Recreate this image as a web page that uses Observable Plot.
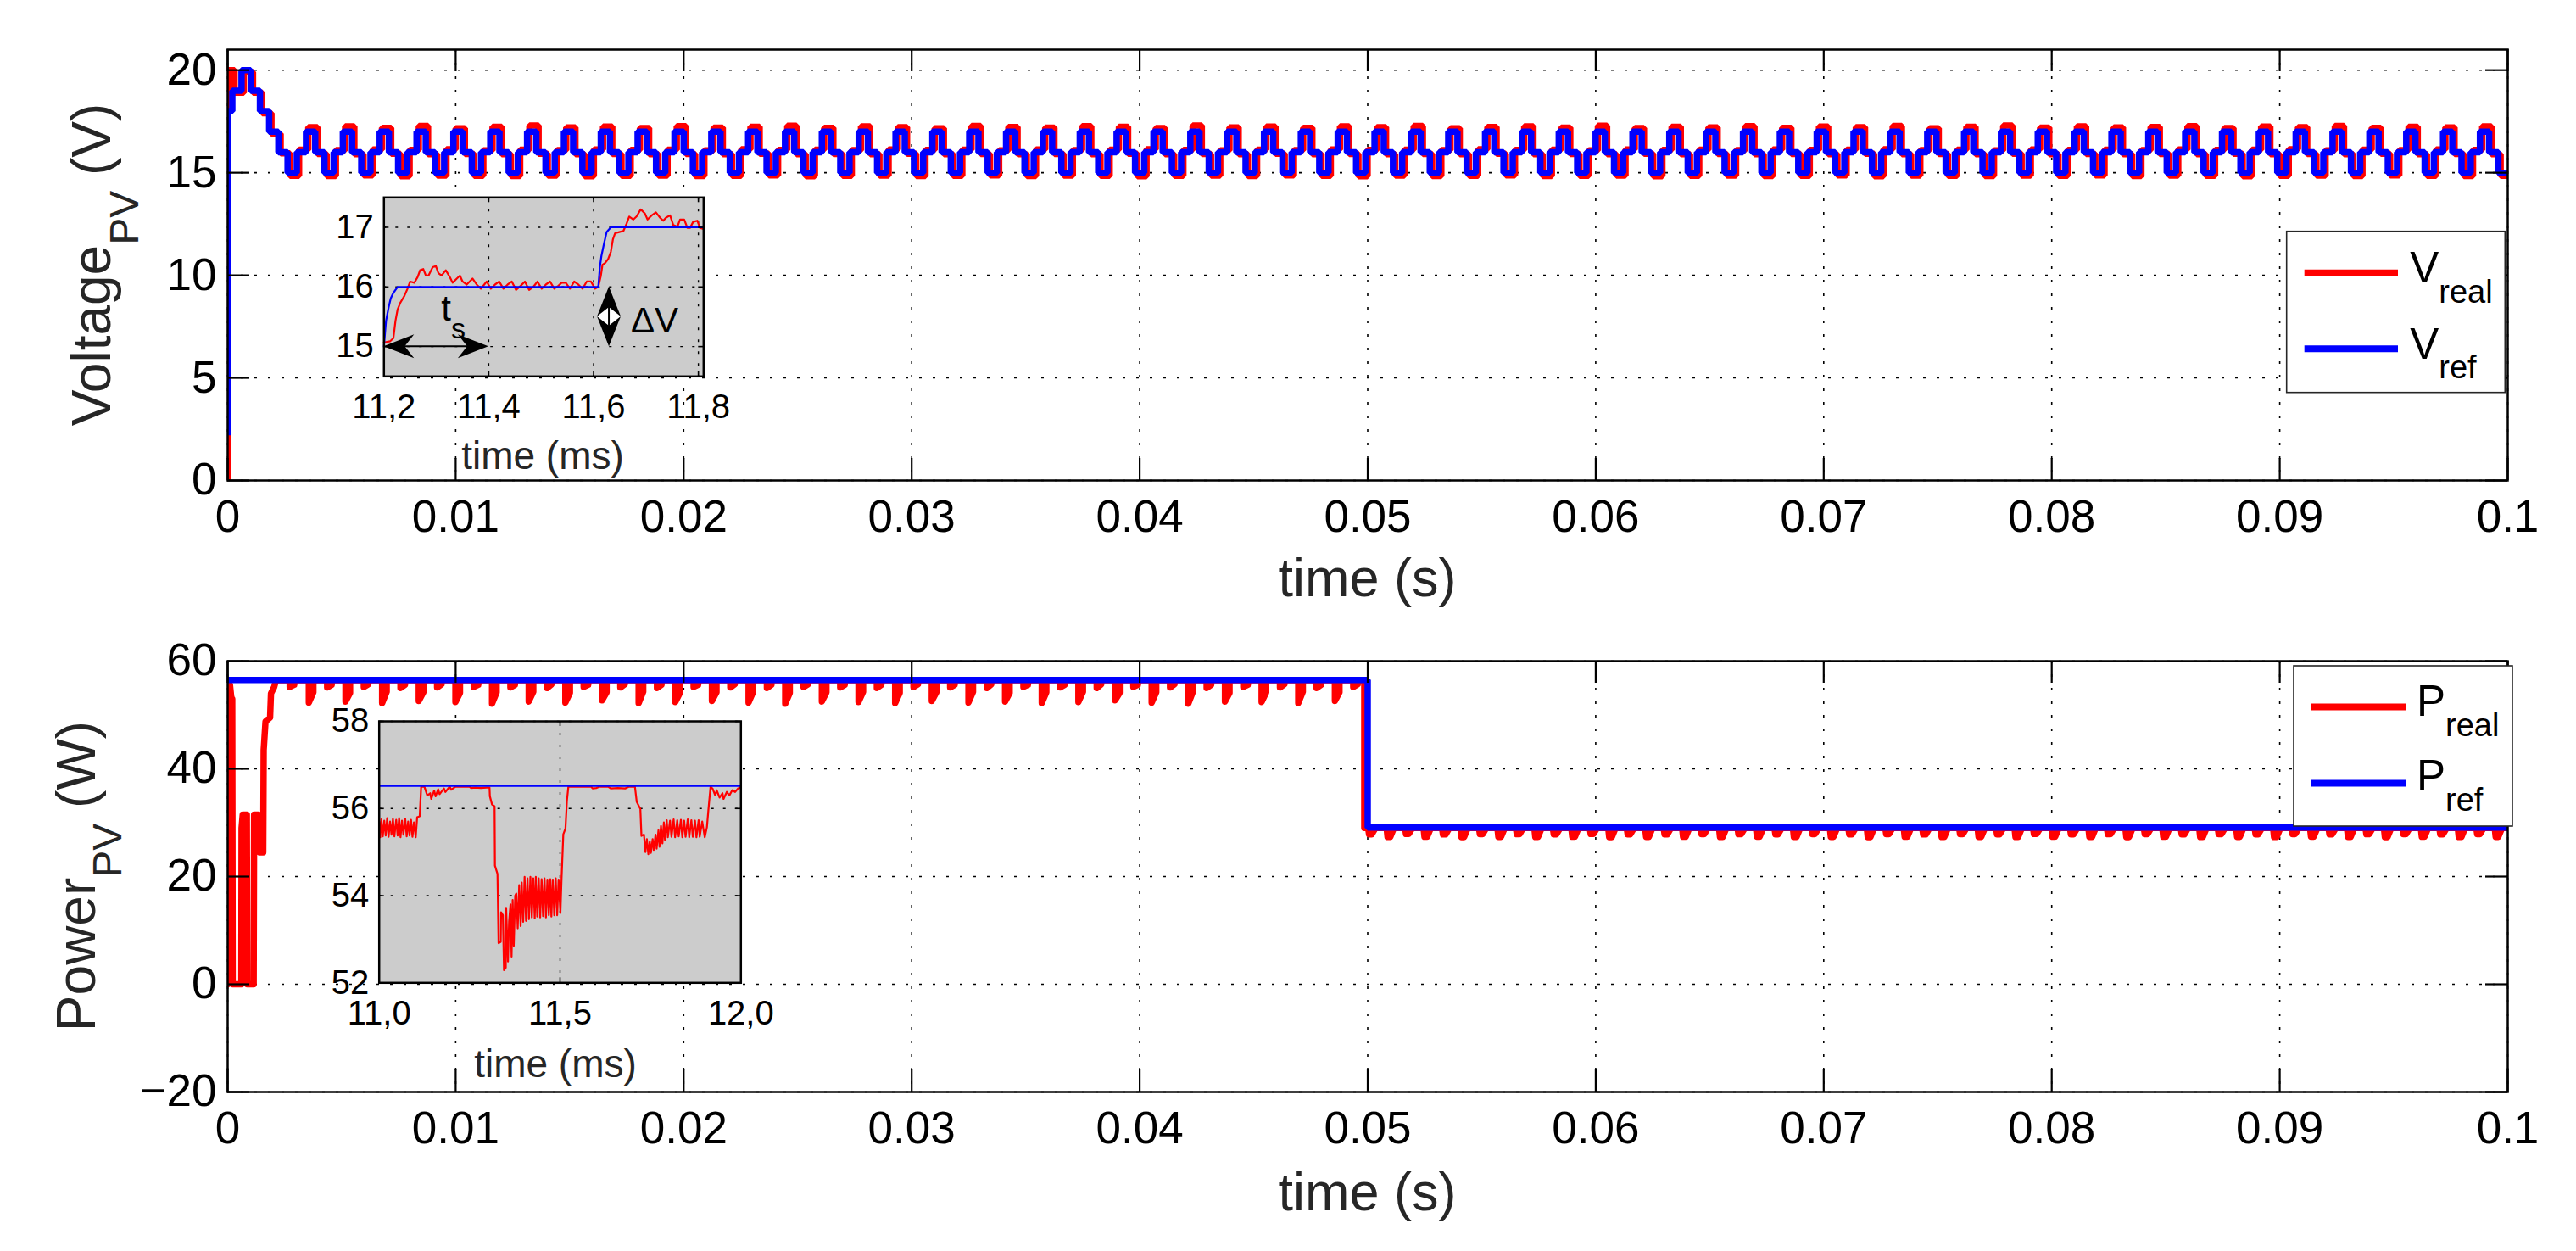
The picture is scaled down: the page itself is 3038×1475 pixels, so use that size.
<!DOCTYPE html>
<html>
<head>
<meta charset="utf-8">
<script src="https://cdn.jsdelivr.net/npm/d3@7"></script>
<script src="https://cdn.jsdelivr.net/npm/@observablehq/plot@0.6"></script>
<style>
html,body{margin:0;padding:0;background:#fff;}
#fig{position:relative;width:3038px;height:1475px;background:#fff;overflow:hidden;}
#fig svg{position:absolute;max-width:none;}
</style>
</head>
<body>
<div id="fig"></div>
<script>
// ===================== DATA =====================
// axis ticks
const xTicksMs = [0, 10, 20, 30, 40, 50, 60, 70, 80, 90, 100];   // shown as seconds
const vTicks = [0, 5, 10, 15, 20];
const vDomain = [0, 21];
const pTicks = [-20, 0, 20, 40, 60];
const pDomain = [-20, 60];

// legend entries
const vSeries = [{base: "V", sub: "real"}, {base: "V", sub: "ref"}];
const pSeries = [{base: "P", sub: "real"}, {base: "P", sub: "ref"}];

// --- PV voltage: perturb & observe staircase, one level per perturbation slot
const slotMs = 0.404;       // perturbation period read off the staircase
const slotStartMs = -0.2;   // start time of slot 0
const vRefStart = 2.2;      // V_ref at t = 0
const vRefLevels = [
  18, 19, 20, 19, 18, 17, 16,
  15,16,17,16, 15,16,17,16, 15,16,17,16, 15,16,17,16, 15,16,17,16, 15,16,17,16, 15,16,17,16, 15,16,17,16, 15,16,17,16, 15,16,17,16,
  15,16,17,16, 15,16,17,16, 15,16,17,16, 15,16,17,16, 15,16,17,16, 15,16,17,16, 15,16,17,16, 15,16,17,16, 15,16,17,16, 15,16,17,16,
  15,16,17,16, 15,16,17,16, 15,16,17,16, 15,16,17,16, 15,16,17,16, 15,16,17,16, 15,16,17,16, 15,16,17,16, 15,16,17,16, 15,16,17,16,
  15,16,17,16, 15,16,17,16, 15,16,17,16, 15,16,17,16, 15,16,17,16, 15,16,17,16, 15,16,17,16, 15,16,17,16, 15,16,17,16, 15,16,17,16,
  15,16,17,16, 15,16,17,16, 15,16,17,16, 15,16,17,16, 15,16,17,16, 15,16,17,16, 15,16,17,16, 15,16,17,16, 15,16,17,16, 15,16,17,16,
  15,16,17,16, 15,16,17,16, 15,16,17,16, 15,16,17,16, 15,16,17,16, 15,16,17,16, 15,16,17,16, 15,16,17,16, 15,16,17,16, 15,16,17,16,
  15
];
const vRealStart = 0;       // V_real at t = 0
const vRealLagMs = 0.1;     // lag of V_real behind V_ref
const vRealLevels = [
  20, 18.9, 19.9, 18.9, 17.9, 16.9, 15.95,
  14.85,16.12,17.22,15.92, 14.84,16.10,17.26,15.90, 14.87,16.13,17.19,15.93, 14.83,16.11,17.28,15.91, 14.86,16.14,17.17,15.92, 14.85,16.09,17.24,15.90, 14.84,16.12,17.30,15.93, 14.86,16.10,17.21,15.91, 14.83,16.13,17.25,15.92, 14.85,16.11,17.18,15.90,
  14.86,16.12,17.27,15.92, 14.84,16.09,17.20,15.91, 14.85,16.14,17.24,15.93, 14.87,16.11,17.29,15.90, 14.83,16.12,17.19,15.92, 14.85,16.10,17.26,15.91, 14.86,16.13,17.22,15.93, 14.84,16.11,17.17,15.90, 14.85,16.12,17.28,15.92, 14.87,16.09,17.23,15.91,
  14.84,16.13,17.20,15.92, 14.86,16.10,17.27,15.90, 14.85,16.12,17.24,15.93, 14.83,16.14,17.18,15.91, 14.85,16.11,17.30,15.92, 14.86,16.09,17.21,15.90, 14.84,16.12,17.25,15.93, 14.87,16.10,17.19,15.91, 14.85,16.13,17.26,15.92, 14.83,16.11,17.22,15.90,
  14.86,16.12,17.28,15.92, 14.84,16.10,17.17,15.91, 14.85,16.14,17.23,15.93, 14.87,16.11,17.26,15.90, 14.84,16.12,17.20,15.92, 14.85,16.09,17.29,15.91, 14.86,16.13,17.18,15.93, 14.83,16.11,17.24,15.90, 14.85,16.12,17.21,15.92, 14.86,16.10,17.27,15.91,
  14.84,16.13,17.19,15.92, 14.85,16.11,17.25,15.90, 14.87,16.12,17.22,15.93, 14.83,16.14,17.28,15.91, 14.86,16.10,17.17,15.92, 14.85,16.12,17.24,15.90, 14.84,16.09,17.30,15.93, 14.86,16.13,17.20,15.91, 14.85,16.11,17.26,15.92, 14.87,16.12,17.21,15.90,
  14.84,16.10,17.23,15.92, 14.86,16.13,17.27,15.91, 14.85,16.11,17.18,15.93, 14.83,16.12,17.25,15.90, 14.85,16.14,17.22,15.92, 14.86,16.09,17.28,15.91, 14.84,16.12,17.19,15.93, 14.87,16.10,17.24,15.90, 14.85,16.13,17.21,15.92, 14.84,16.11,17.26,15.91,
  14.85
];

// --- PV power
const pRefT = [0, 50, 50, 100];
const pRefV = [56.5, 56.5, 29.1, 29.1];
const pRealStart = [
  [0, 0], [0.01, 56], [0.10, 55.6], [0.16, 53.2], [0.20, 53.0], [0.22, 0], [0.60, 0],
  [0.61, 29], [0.66, 31.5], [0.84, 31.5], [0.86, 0], [1.14, 0], [1.16, 31.5], [1.34, 31.5],
  [1.37, 30.2], [1.40, 24.5], [1.56, 24.5], [1.58, 43.5], [1.66, 48.8], [1.86, 49.5],
  [1.90, 54.0], [2.04, 55.2], [2.12, 56.45], [2.72, 56.45], [2.72, 55.2], [2.92, 55.6], [2.92, 56.45]
];
const pBase1 = 56.45, pBase2 = 29.0;      // P_real between dips (before / after the step)
const pStepMs = 49.85;                     // P_real drop time
const pDip1FirstMs = 3.56, pDip1EveryMs = 0.8036, pDipLenMs = 0.2;
const pDip1 = [ // [minimum, value at recovery] of each dip before 0.05 s
  [52.3,54.2],[55.1,55.6],[52.5,54.1],[55.2,55.7],[52.2,54.3],[55.0,55.6],[52.6,54.2],[55.1,55.7],[52.4,54.1],[55.2,55.6],
  [52.1,54.2],[55.1,55.6],[52.5,54.3],[55.0,55.7],[52.3,54.1],[55.2,55.6],[52.7,54.2],[55.1,55.7],[52.2,54.3],[55.0,55.6],
  [52.4,54.1],[55.2,55.6],[52.6,54.2],[55.1,55.7],[52.3,54.3],[55.0,55.6],[52.1,54.1],[55.2,55.7],[52.5,54.2],[55.1,55.6],
  [52.4,54.3],[55.0,55.6],[52.2,54.1],[55.2,55.7],[52.6,54.2],[55.1,55.6],[52.3,54.3],[55.0,55.7],[52.5,54.1],[55.2,55.6],
  [52.2,54.2],[55.1,55.6],[52.4,54.3],[55.0,55.7],[52.7,54.1],[55.2,55.6],[52.3,54.2],[55.1,55.7],[52.1,54.3],[55.0,55.6],
  [52.5,54.1],[55.2,55.6],[52.4,54.2],[55.1,55.7],[52.2,54.3],[55.0,55.6],[52.6,54.2],[55.2,55.7]
];
const pDip2FirstMs = 50.02, pDip2EveryMs = 0.81;
const pDip2 = [ // minimum of each dip after 0.05 s
  27.85,27.35,27.90,27.40,27.82,27.33,27.88,27.38,27.86,27.36,27.84,27.40,27.90,27.34,27.85,27.37,
  27.83,27.39,27.88,27.35,27.86,27.41,27.84,27.36,27.89,27.38,27.85,27.33,27.87,27.40,27.82,27.36,
  27.88,27.38,27.85,27.35,27.90,27.39,27.84,27.37,27.86,27.34,27.88,27.40,27.83,27.36,27.87,27.38,
  27.85,27.35,27.89,27.41,27.84,27.37,27.86,27.33,27.88,27.39,27.85,27.36,27.87,27.38
];

// --- inset 1: zoom on the voltage (time in ms)
const inset1XTicks = [11.2, 11.4, 11.6, 11.8];
const inset1XDomain = [11.2, 11.81];
const inset1YTicks = [15, 16, 17];
const inset1YDomain = [14.5, 17.5];
const insetVRef = [[11.200,15.00],[11.204,15.43],[11.209,15.66],[11.213,15.81],[11.218,15.90],[11.226,16.00],
  [11.609,16.00],[11.612,16.33],[11.615,16.52],[11.620,16.73],[11.625,16.92],[11.633,17.00],[11.810,17.00]];
const insetVReal = [
  [11.200,15.07],[11.212,15.09],[11.218,15.14],[11.222,15.43],[11.226,15.62],[11.231,15.73],[11.239,15.85],[11.245,15.97],
  [11.250,16.09],[11.258,16.07],[11.264,16.16],[11.269,16.28],[11.275,16.30],[11.280,16.19],[11.285,16.19],[11.293,16.33],
  [11.299,16.35],[11.304,16.23],[11.310,16.19],[11.318,16.28],[11.326,16.16],[11.331,16.07],[11.339,16.14],[11.345,16.19],
  [11.350,16.09],[11.358,16.04],[11.369,16.14],[11.377,16.04],[11.385,15.97],[11.396,16.09],[11.404,15.97],[11.412,16.04],
  [11.420,16.09],[11.428,15.97],[11.436,16.04],[11.444,16.09],[11.452,15.95],[11.461,16.02],[11.469,16.09],[11.477,15.95],
  [11.485,16.00],[11.493,16.09],[11.501,15.97],[11.509,16.04],[11.517,16.09],[11.525,15.97],[11.533,16.02],[11.539,16.07],
  [11.547,16.07],[11.555,15.97],[11.563,16.09],[11.571,16.04],[11.579,15.97],[11.587,16.09],[11.595,16.09],[11.603,15.97],
  [11.609,16.00],[11.614,16.19],[11.617,16.37],[11.622,16.40],[11.628,16.47],[11.633,16.59],[11.637,16.80],[11.641,16.90],
  [11.649,16.92],[11.657,16.94],[11.663,17.06],[11.668,17.18],[11.676,17.13],[11.682,17.18],[11.690,17.30],[11.698,17.23],
  [11.703,17.13],[11.711,17.20],[11.719,17.25],[11.727,17.16],[11.733,17.11],[11.738,17.16],[11.746,17.20],[11.752,17.04],
  [11.760,17.01],[11.765,17.13],[11.773,17.13],[11.779,16.99],[11.784,16.99],[11.790,17.09],[11.798,17.11],[11.803,16.99],
  [11.810,16.97]
];
const tsArrow = {t1: 11.2, t2: 11.4, v: 15};
const tsLabel = {t: 11.31, v: 15.43, base: "t", sub: "s"};
const dvArrow = {t: 11.63, v1: 16, v2: 15};
const dvLabel = {t: 11.672, v: 15.23, text: "ΔV"};

// --- inset 2: zoom on the power (time in ms)
const inset2XTicks = [11.0, 11.5, 12.0];
const inset2XDomain = [11, 12];
const inset2YTicks = [52, 54, 56, 58];
const inset2YDomain = [52, 58];
const insetPRef = [[11.0, 56.52], [12.0, 56.52]];
const insetPReal = [
  [11.000,55.70],[11.003,55.34],[11.006,55.75],[11.010,55.36],[11.014,55.72],[11.018,55.38],[11.022,55.78],[11.026,55.35],
  [11.030,55.70],[11.034,55.40],[11.038,55.76],[11.042,55.36],[11.047,55.74],[11.051,55.38],[11.055,55.78],[11.059,55.34],
  [11.063,55.72],[11.067,55.40],[11.072,55.76],[11.076,55.36],[11.080,55.70],[11.084,55.38],[11.088,55.74],[11.092,55.35],
  [11.096,55.68],[11.101,55.34],[11.105,55.80],[11.112,55.82],[11.116,56.50],[11.125,56.50],[11.133,56.30],[11.141,56.35],
  [11.144,56.22],[11.152,56.41],[11.156,56.28],[11.163,56.44],[11.167,56.33],[11.179,56.46],[11.183,56.38],[11.195,56.50],
  [11.199,56.43],[11.211,56.50],[11.250,56.50],[11.254,56.47],[11.266,56.48],[11.281,56.47],[11.297,56.48],[11.305,56.48],
  [11.306,56.28],[11.312,56.09],[11.319,56.05],[11.320,54.69],[11.327,54.50],[11.330,52.91],[11.336,52.94],[11.337,53.62],
  [11.342,53.55],[11.345,52.29],[11.350,52.35],[11.351,53.72],[11.356,52.49],[11.359,53.40],[11.363,53.80],[11.366,52.60],
  [11.369,53.90],[11.372,52.85],[11.376,54.00],[11.379,54.05],[11.383,53.25],[11.387,54.24],[11.391,53.30],[11.394,54.30],
  [11.398,53.40],[11.402,54.43],[11.406,53.42],[11.410,54.40],[11.414,53.46],[11.418,54.43],[11.422,53.50],[11.426,54.40],
  [11.430,53.48],[11.433,54.43],[11.437,53.52],[11.441,54.40],[11.445,53.50],[11.449,54.38],[11.453,53.53],[11.457,54.40],
  [11.461,53.50],[11.465,54.37],[11.469,53.55],[11.473,54.38],[11.476,53.52],[11.480,54.37],[11.484,53.55],[11.488,54.40],
  [11.492,53.55],[11.496,54.37],[11.501,53.60],[11.504,54.35],[11.509,55.41],[11.515,55.54],[11.519,56.18],[11.523,56.50],
  [11.586,56.50],[11.590,56.46],[11.600,56.47],[11.609,56.50],[11.633,56.50],[11.640,56.46],[11.660,56.47],[11.680,56.46],
  [11.691,56.50],[11.707,56.50],[11.712,56.15],[11.722,55.99],[11.725,55.37],[11.732,55.40],[11.736,55.00],[11.740,55.30],
  [11.744,54.95],[11.748,55.25],[11.751,54.98],[11.756,55.30],[11.759,55.05],[11.764,55.40],[11.767,55.08],[11.772,55.50],
  [11.775,55.12],[11.779,55.60],[11.783,55.20],[11.787,55.68],[11.790,55.28],[11.795,55.73],[11.798,55.34],[11.804,55.72],
  [11.808,55.35],[11.814,55.75],[11.818,55.34],[11.824,55.73],[11.828,55.36],[11.834,55.74],[11.838,55.34],[11.843,55.72],
  [11.847,55.35],[11.853,55.75],[11.857,55.34],[11.863,55.73],[11.867,55.35],[11.873,55.72],[11.877,55.34],[11.883,55.73],
  [11.886,55.35],[11.893,55.70],[11.900,55.34],[11.906,55.57],[11.910,55.96],[11.916,56.50],[11.922,56.45],[11.929,56.30],
  [11.933,56.42],[11.941,56.25],[11.949,56.35],[11.952,56.22],[11.961,56.38],[11.968,56.30],[11.976,56.42],[11.984,56.38],
  [11.992,56.46],[12.000,56.48]
];

// ===================== STYLE =====================
const FONT = '"Liberation Sans", Arial, Helvetica, sans-serif';
const RED = "#ff0000", BLUE = "#0000ff", GRAY = "#cccccc", LABEL = "#262626";
const seriesColors = [RED, BLUE];
const W = 3038;
const fmtSec = d => d === 0 ? "0" : String(d / 1000);
const fmtComma = d => d.toFixed(1).replace(".", ",");
const fmtInt = d => d < 0 ? "\u2212" + String(-d) : String(d);

// ===================== SERIES =====================
function stepSeries(levels, startValue, lagMs) {
  const pts = [{t: 0, v: startValue}];
  levels.forEach((v, i) => {
    const a = Math.max(0, slotStartMs + i * slotMs + lagMs);
    const b = Math.min(100, slotStartMs + (i + 1) * slotMs + lagMs);
    if (b > a) pts.push({t: a, v}, {t: b, v});
  });
  const last = pts[pts.length - 1];
  if (last.t < 100) pts.push({t: 100, v: last.v});
  return pts;
}
const vRefPts = stepSeries(vRefLevels, vRefStart, 0);
const vRealPts = stepSeries(vRealLevels, vRealStart, vRealLagMs);

const pRefPts = pRefT.map((t, i) => ({t, p: pRefV[i]}));
const pRealPts = pRealStart.map(([t, p]) => ({t, p}));
pDip1.forEach(([lo, rec], j) => {
  const ts = pDip1FirstMs + j * pDip1EveryMs;
  pRealPts.push({t: ts, p: pBase1}, {t: ts, p: lo}, {t: ts + pDipLenMs, p: rec}, {t: ts + pDipLenMs, p: pBase1});
});
pRealPts.push({t: pStepMs, p: pBase1}, {t: pStepMs, p: pBase2});
pDip2.forEach((lo, k) => {
  const ts = pDip2FirstMs + k * pDip2EveryMs;
  pRealPts.push({t: ts, p: pBase2}, {t: ts + 0.04, p: lo}, {t: ts + 0.16, p: lo}, {t: ts + 0.32, p: pBase2});
});
pRealPts.push({t: 100, p: pBase2});

// ===================== HELPERS =====================
function innerTicks(xTicks, yTicks, innerW, innerH, len, sw) {
  const s = {stroke: "#000", strokeWidth: sw};
  return [
    Plot.tickX(xTicks, {x: d => d, ...s, insetTop: innerH - len}),
    Plot.tickX(xTicks, {x: d => d, ...s, insetBottom: innerH - len}),
    Plot.tickY(yTicks, {y: d => d, ...s, insetRight: innerW - len}),
    Plot.tickY(yTicks, {y: d => d, ...s, insetLeft: innerW - len})
  ];
}

function mainPlot({height, mt, mb, yDomain, yTicks, marks}) {
  const ml = 268, mr = 81;
  const innerW = W - ml - mr, innerH = height - mt - mb;
  return Plot.plot({
    width: W, height, marginTop: mt, marginBottom: mb, marginLeft: ml, marginRight: mr,
    style: {fontFamily: FONT, fontSize: "53px", color: "#000", background: "transparent", overflow: "visible"},
    x: {domain: [0, 100], ticks: xTicksMs, tickFormat: fmtSec, tickSize: 0, tickPadding: 23, label: null},
    y: {domain: yDomain, ticks: yTicks, tickFormat: fmtInt, tickSize: 0, tickPadding: 13, label: null},
    marks: [
      Plot.ruleX(xTicksMs, {x: d => d, stroke: "#000", strokeWidth: 1.6, strokeDasharray: "3,13"}),
      Plot.ruleY(yTicks, {y: d => d, stroke: "#000", strokeWidth: 1.6, strokeDasharray: "3,13"}),
      ...marks,
      ...innerTicks(xTicksMs, yTicks, innerW, innerH, 26, 2.2),
      Plot.frame({stroke: "#000", strokeWidth: 2.5})
    ]
  });
}

function insetPlot({ml, mr, mt, mb, width, height, xDomain, xTicks, yDomain, yTicks, marks}) {
  const innerW = width - ml - mr, innerH = height - mt - mb;
  return Plot.plot({
    width, height, marginTop: mt, marginBottom: mb, marginLeft: ml, marginRight: mr,
    style: {fontFamily: FONT, fontSize: "40px", color: "#000", background: "transparent", overflow: "visible"},
    x: {domain: xDomain, ticks: xTicks, tickFormat: fmtComma, tickSize: 0, tickPadding: 21, label: null},
    y: {domain: yDomain, ticks: yTicks, tickFormat: fmtInt, tickSize: 0, tickPadding: 12, label: null},
    marks: [
      Plot.frame({fill: GRAY}),
      Plot.ruleX(xTicks, {x: d => d, stroke: "#000", strokeWidth: 1.4, strokeDasharray: "3,11"}),
      Plot.ruleY(yTicks, {y: d => d, stroke: "#000", strokeWidth: 1.4, strokeDasharray: "3,11"}),
      ...marks,
      ...innerTicks(xTicks, yTicks, innerW, innerH, 6, 1.6),
      Plot.frame({stroke: "#000", strokeWidth: 2.5})
    ]
  });
}

function subText(svg, {x, y, rotate = 0, anchor = "start", fill = "#000", parts}) {
  const t = d3.select(svg).append("text")
    .attr("transform", `translate(${x},${y}) rotate(${rotate})`)
    .attr("text-anchor", anchor).attr("fill", fill)
    .style("font-family", FONT).style("white-space", "pre");
  parts.forEach(([txt, size, dy]) => t.append("tspan").style("font-size", size + "px").attr("dy", dy).text(txt));
  return t;
}

function drawLegend(svg, L, series) {
  const g = d3.select(svg).append("g");
  g.append("rect").attr("x", L.x0).attr("y", L.y0).attr("width", L.x1 - L.x0).attr("height", L.y1 - L.y0)
    .attr("fill", "#fff").attr("stroke", LABEL).attr("stroke-width", 1.6);
  series.forEach((s, i) => {
    g.append("line").attr("x1", L.lx0).attr("x2", L.lx1).attr("y1", L.ly[i]).attr("y2", L.ly[i])
      .attr("stroke", seriesColors[i]).attr("stroke-width", 8);
    subText(svg, {x: L.tx, y: L.ty[i], parts: [[s.base, 51, 0], [s.sub, 38, L.subDy]]});
  });
}

// ===================== BUILD =====================
const fig = document.getElementById("fig");

// --- top: voltage
const svgTop = mainPlot({
  height: 735, mt: 58, mb: 169, yDomain: vDomain, yTicks: vTicks,
  marks: [
    Plot.line(vRealPts, {x: "t", y: "v", stroke: RED, strokeWidth: 7.5, strokeLinejoin: "miter", strokeLinecap: "butt", clip: true}),
    Plot.line(vRefPts, {x: "t", y: "v", stroke: BLUE, strokeWidth: 7.5, strokeLinejoin: "miter", strokeLinecap: "butt", clip: true})
  ]
});
svgTop.style.left = "0px"; svgTop.style.top = "0px";
fig.appendChild(svgTop);
subText(svgTop, {x: 130, y: 312, rotate: -90, anchor: "middle", fill: LABEL,
  parts: [["Voltage", 64, 0], ["PV", 48, 33], [" (V)", 64, -33]]});
subText(svgTop, {x: 1612.5, y: 703, anchor: "middle", fill: LABEL, parts: [["time (s)", 63, 0]]});
drawLegend(svgTop, {x0: 2696.7, y0: 272.7, x1: 2954.3, y1: 462.7, lx0: 2717.7, lx1: 2828,
  ly: [321.7, 411.2], tx: 2842.3, ty: [333.3, 422.7], subDy: 23.4}, vSeries);

// --- bottom: power
const svgBot = mainPlot({
  height: 740, mt: 44, mb: 188, yDomain: pDomain, yTicks: pTicks,
  marks: [
    Plot.line(pRealPts, {x: "t", y: "p", stroke: RED, strokeWidth: 7.5, strokeLinejoin: "round", clip: true}),
    Plot.line(pRefPts, {x: "t", y: "p", stroke: BLUE, strokeWidth: 7.5, strokeLinejoin: "miter", strokeLinecap: "butt", clip: true})
  ]
});
svgBot.style.left = "0px"; svgBot.style.top = "735px";
fig.appendChild(svgBot);
subText(svgBot, {x: 112, y: 298, rotate: -90, anchor: "middle", fill: LABEL,
  parts: [["Power", 64, 0], ["PV", 48, 31], [" (W)", 64, -31]]});
subText(svgBot, {x: 1612.5, y: 692, anchor: "middle", fill: LABEL, parts: [["time (s)", 63, 0]]});
drawLegend(svgBot, {x0: 2705, y0: 50, x1: 2963, y1: 239, lx0: 2725, lx1: 2837,
  ly: [98.5, 188.4], tx: 2850, ty: [109, 197], subDy: 24}, pSeries);

// --- inset 1 (voltage zoom)
const I1 = {left: 362, top: 222, width: 490, height: 345, ml: 90.3, mr: 22.7, mt: 10.3, mb: 123.7};
const svgI1 = insetPlot({...I1, xDomain: inset1XDomain, xTicks: inset1XTicks, yDomain: inset1YDomain, yTicks: inset1YTicks,
  marks: [
    Plot.line(insetVReal, {x: d => d[0], y: d => d[1], stroke: RED, strokeWidth: 2.2}),
    Plot.line(insetVRef, {x: d => d[0], y: d => d[1], stroke: BLUE, strokeWidth: 2.2})
  ]});
svgI1.style.left = I1.left + "px"; svgI1.style.top = I1.top + "px";
fig.appendChild(svgI1);
subText(svgI1, {x: 278, y: 331, anchor: "middle", fill: LABEL, parts: [["time (ms)", 46, 0]]});
{
  const sx = d3.scaleLinear(inset1XDomain, [I1.ml, I1.width - I1.mr]);
  const sy = d3.scaleLinear(inset1YDomain, [I1.height - I1.mb, I1.mt]);
  const g = d3.select(svgI1).append("g");
  // t_s double arrow
  const y = sy(tsArrow.v), xa = sx(tsArrow.t1), xb = sx(tsArrow.t2);
  g.append("line").attr("x1", xa + 20).attr("x2", xb - 20).attr("y1", y).attr("y2", y).attr("stroke", "#000").attr("stroke-width", 2);
  g.append("path").attr("d", `M${xa},${y}L${xa + 36},${y - 14}L${xa + 25},${y}L${xa + 36},${y + 14}Z`).attr("fill", "#000");
  g.append("path").attr("d", `M${xb},${y}L${xb - 36},${y - 14}L${xb - 25},${y}L${xb - 36},${y + 14}Z`).attr("fill", "#000");
  subText(svgI1, {x: sx(tsLabel.t), y: sy(tsLabel.v), parts: [[tsLabel.base, 42, 0], [tsLabel.sub, 34, 21]]});
  // delta V double arrow
  const x = sx(dvArrow.t), ya = sy(dvArrow.v1), yb = sy(dvArrow.v2), ym = (ya + yb) / 2;
  g.append("path").attr("d", `M${x},${ym - 11}L${x + 14},${ym}L${x},${ym + 11}L${x - 14},${ym}Z`).attr("fill", "#fff");
  g.append("line").attr("x1", x).attr("x2", x).attr("y1", ym - 11).attr("y2", ym + 11).attr("stroke", "#000").attr("stroke-width", 2);
  g.append("path").attr("d", `M${x},${ya}L${x + 14},${ym}L${x},${ym - 11}L${x - 14},${ym}Z`).attr("fill", "#000");
  g.append("path").attr("d", `M${x},${yb}L${x + 14},${ym}L${x},${ym + 11}L${x - 14},${ym}Z`).attr("fill", "#000");
  subText(svgI1, {x: sx(dvLabel.t), y: sy(dvLabel.v), parts: [[dvLabel.text, 42, 0]]});
}

// --- inset 2 (power zoom)
const I2 = {left: 356, top: 830, width: 540, height: 460, ml: 90.7, mr: 22.7, mt: 20, mb: 131.7};
const svgI2 = insetPlot({...I2, xDomain: inset2XDomain, xTicks: inset2XTicks, yDomain: inset2YDomain, yTicks: inset2YTicks,
  marks: [
    Plot.line(insetPReal, {x: d => d[0], y: d => d[1], stroke: RED, strokeWidth: 2.2}),
    Plot.line(insetPRef, {x: d => d[0], y: d => d[1], stroke: BLUE, strokeWidth: 2.2})
  ]});
svgI2.style.left = I2.left + "px"; svgI2.style.top = I2.top + "px";
fig.appendChild(svgI2);
subText(svgI2, {x: 299, y: 440, anchor: "middle", fill: LABEL, parts: [["time (ms)", 46, 0]]});
</script>
</body>
</html>
